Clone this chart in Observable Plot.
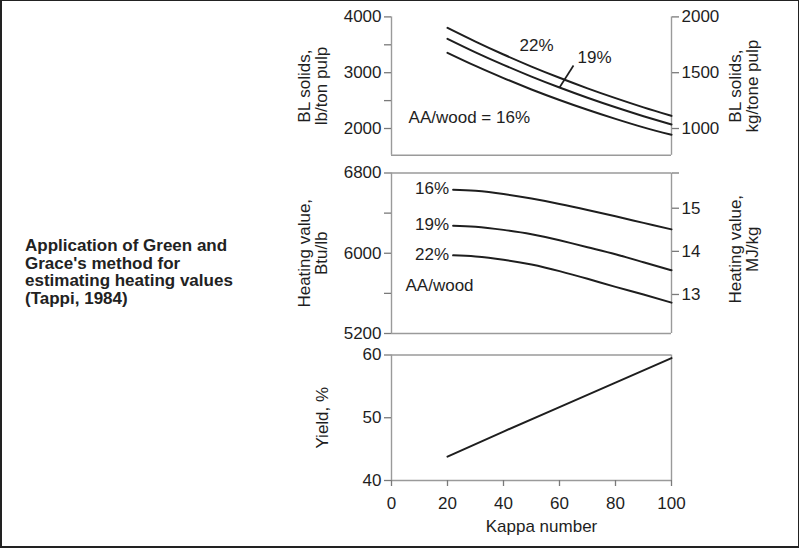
<!DOCTYPE html>
<html><head><meta charset="utf-8">
<script src="https://cdn.jsdelivr.net/npm/d3@7"></script>
<script src="https://cdn.jsdelivr.net/npm/@observablehq/plot@0.6"></script>
<style>
html,body{margin:0;padding:0;background:#fff;}
#wrap{position:relative;width:799px;height:548px;overflow:hidden;font-family:"Liberation Sans",Arial,sans-serif;background:#fff;}
#border{position:absolute;left:0;top:0;width:799px;height:548px;box-sizing:border-box;border-style:solid;border-color:#222;border-width:1px 1px 2px 2px;z-index:10;pointer-events:none;}
#note{position:absolute;left:25px;top:237px;font-weight:bold;font-size:17px;line-height:17.5px;color:#222;white-space:nowrap;}
</style></head><body>
<div id="wrap"><div id="note">Application of Green and<br>Grace's method for<br>estimating heating values<br>(Tappi, 1984)</div><div id="border"></div></div>
<script>
// ---- data ----
const kappaBL = [20, 30, 40, 50, 60, 70, 80, 90, 100];
const bl16 = [3357, 3122, 2904, 2700, 2512, 2336, 2172, 2020, 1887];
const bl19 = [3608, 3366, 3141, 2930, 2734, 2551, 2380, 2221, 2072];
const bl22 = [3803, 3557, 3326, 3110, 2909, 2720, 2544, 2379, 2226];

const kappaHV = [22, 30, 40, 50, 60, 70, 80, 90, 100];
const hv16 = [6633, 6622, 6590, 6545, 6492, 6432, 6368, 6303, 6238];
const hv19 = [6275, 6265, 6233, 6190, 6130, 6060, 5990, 5910, 5830];
const hv22 = [5979, 5967, 5935, 5888, 5822, 5745, 5665, 5588, 5508];

const kappaYield = [20, 40, 60, 80, 100];
const yieldPct = [43.8, 47.8, 51.7, 55.6, 59.5];

const blTicksLeft = [2000, 2500, 3000, 3500, 4000];
const blTicksLeftLabeled = [2000, 3000, 4000];
const blTicksRight = [1000, 1500, 2000];       // kg/tonne
const hvTicksLeft = [5200, 5600, 6000, 6400, 6800];
const hvTicksLeftLabeled = [5200, 6000, 6800];
const hvTicksRight = [13, 14, 15];             // MJ/kg
const yieldTicks = [40, 50, 60];
const kappaTicks = [0, 20, 40, 60, 80, 100];

const KG_PER_LB = 0.5;        // lb/short ton -> kg/tonne
const MJ_PER_BTU = 0.002326;  // Btu/lb -> MJ/kg

const blDomain = [1520, 4000];
const hvDomain = [5200, 6800];
const yieldDomain = [40, 60];

const blPctLabels = [
  {text: "22%", x: 51.8, y: 3487},
  {text: "19%", x: 72.5, y: 3272}
];
const blAALabel = [{text: "AA/wood = 16%", x: 6.1, y: 2199}];
const blLeader = [{x1: kappaBL[4], y1: bl19[4], x2: 65, y2: 3130}];
const hvNames = ["16%", "19%", "22%"];
const hvLabelExtra = [{text: "AA/wood", x: 5, y: 5681}];

// ---- build ----
const wrap = document.getElementById("wrap");
const FONT = "'Liberation Sans', Arial, sans-serif";
const INK = "#1e1e1e";
const AXC = "#9a9a9a";
const TICKC = "#7a7a7a";

function toRows(xs, ys, name) { return xs.map((x, i) => ({x, y: ys[i], s: name})); }

function panel({top, height, mt, mb, domain, showX, marks}) {
  const svg = Plot.plot({
    width: 799, height,
    marginLeft: 391, marginRight: 128, marginTop: mt, marginBottom: mb,
    x: showX ? {domain: [0, 100]} : {domain: [0, 100], axis: null},
    y: {domain},
    style: {fontFamily: FONT, fontSize: "17px", color: INK, background: "transparent", overflow: "visible"},
    marks
  });
  svg.style.position = "absolute";
  svg.style.left = "0px";
  svg.style.top = top + "px";
  wrap.insertBefore(svg, document.getElementById("border"));
}

const tickStyle = {tickSize: 7, tickPadding: 3, fontSize: 17, stroke: TICKC, strokeWidth: 1.3, fill: INK, label: null};
const titleStyle = {rotate: -90, fontSize: 17, lineHeight: 1, fill: INK, textAnchor: "middle", lineAnchor: "middle"};

// Panel 1: BL solids
const blRows = [...toRows(kappaBL, bl16, "16"), ...toRows(kappaBL, bl19, "19"), ...toRows(kappaBL, bl22, "22")];
panel({
  top: 0, height: 165, mt: 16.4, mb: 10.2, domain: blDomain,
  marks: [
    Plot.ruleX([0, 100], {stroke: AXC, strokeWidth: 1.4}),
    Plot.ruleY([blDomain[0]], {stroke: AXC, strokeWidth: 1.4}),
    Plot.axisY({...tickStyle, anchor: "left", ticks: blTicksLeft, tickFormat: d => blTicksLeftLabeled.includes(d) ? String(d) : ""}),
    Plot.axisY({...tickStyle, anchor: "right", ticks: blTicksRight.map(k => k / KG_PER_LB), tickFormat: d => String(Math.round(d * KG_PER_LB))}),
    Plot.line(blRows, {x: "x", y: "y", z: "s", stroke: INK, strokeWidth: 2, curve: "natural"}),
    Plot.link(blLeader, {x1: "x1", y1: "y1", x2: "x2", y2: "y2", stroke: INK, strokeWidth: 1.7}),
    Plot.text(blPctLabels, {x: "x", y: "y", text: "text", textAnchor: "middle", fontSize: 17, fill: INK}),
    Plot.text(blAALabel, {x: "x", y: "y", text: "text", textAnchor: "start", fontSize: 17, fill: INK}),
    Plot.text(["BL solids,\nlb/ton pulp"], {...titleStyle, frameAnchor: "left", dx: -78.4}),
    Plot.text(["BL solids,\nkg/tone pulp"], {...titleStyle, frameAnchor: "right", dx: 73})
  ]
});

// Panel 2: Heating value
const hvSeries = [hv16, hv19, hv22];
const hvRows = hvSeries.flatMap((s, i) => toRows(kappaHV, s, hvNames[i]));
const hvStarts = hvSeries.map((s, i) => ({x: kappaHV[0], y: s[0], text: hvNames[i]}));
panel({
  top: 165, height: 175, mt: 7.5, mb: 7, domain: hvDomain,
  marks: [
    Plot.ruleX([0, 100], {stroke: AXC, strokeWidth: 1.4}),
    Plot.ruleY(hvDomain, {stroke: AXC, strokeWidth: 1.4}),
    Plot.axisY({...tickStyle, anchor: "left", ticks: hvTicksLeft, tickFormat: d => hvTicksLeftLabeled.includes(d) ? String(d) : ""}),
    Plot.axisY({...tickStyle, anchor: "right", ticks: hvTicksRight.map(m => m / MJ_PER_BTU), tickFormat: d => String(Math.round(d * MJ_PER_BTU))}),
    Plot.axisY({...tickStyle, anchor: "right", ticks: [hvDomain[1]], tickFormat: () => ""}),
    Plot.line(hvRows, {x: "x", y: "y", z: "s", stroke: INK, strokeWidth: 2, curve: "natural"}),
    Plot.text(hvStarts, {x: "x", y: "y", text: "text", textAnchor: "end", dx: -4, dy: -1, fontSize: 17, fill: INK}),
    Plot.text(hvLabelExtra, {x: "x", y: "y", text: "text", textAnchor: "start", fontSize: 17, fill: INK}),
    Plot.text(["Heating value,\nBtu/lb"], {...titleStyle, frameAnchor: "left", dx: -78.4}),
    Plot.text(["Heating value,\nMJ/kg"], {...titleStyle, frameAnchor: "right", dx: 73, dy: -4})
  ]
});

// Panel 3: Yield
const yRows = toRows(kappaYield, yieldPct, "y");
panel({
  top: 340, height: 208, mt: 14.5, mb: 68, domain: yieldDomain, showX: true,
  marks: [
    Plot.ruleX([0, 100], {stroke: AXC, strokeWidth: 1.4}),
    Plot.ruleY(yieldDomain, {stroke: AXC, strokeWidth: 1.4}),
    Plot.axisY({...tickStyle, anchor: "left", ticks: yieldTicks, tickFormat: d => String(d)}),
    Plot.axisX({tickSize: 6, tickPadding: 10, fontSize: 17, stroke: TICKC, strokeWidth: 1.3, fill: INK, label: null, anchor: "bottom", ticks: kappaTicks, tickFormat: d => String(d)}),
    Plot.line(yRows, {x: "x", y: "y", stroke: INK, strokeWidth: 2}),
    Plot.text(["Yield, %"], {...titleStyle, frameAnchor: "left", dx: -69}),
    Plot.text(["Kappa number"], {frameAnchor: "bottom", dx: 10, dy: 46.5, fontSize: 17, fill: INK, lineAnchor: "middle"})
  ]
});
</script>
</body></html>
